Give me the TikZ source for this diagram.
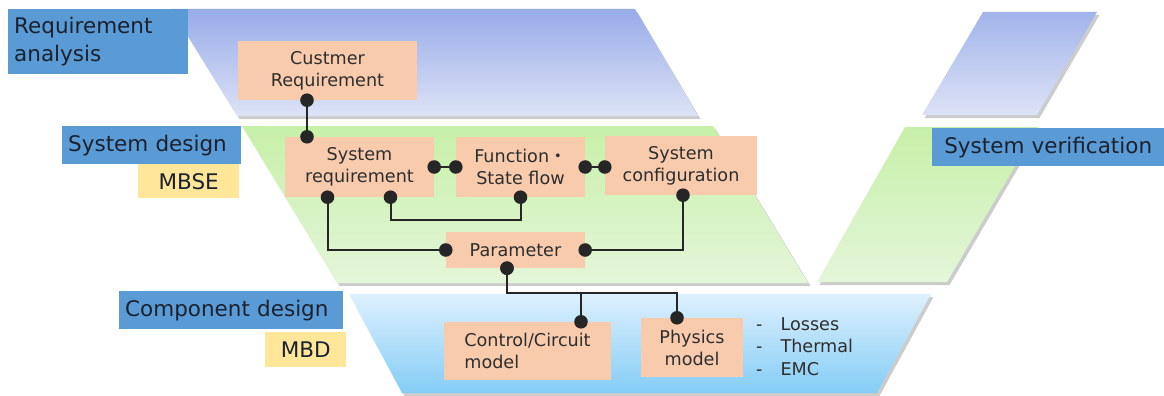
\documentclass[tikz,border=0pt]{standalone}
\usepackage{fontspec}
\setmainfont{DejaVu Sans}
\newfontfamily\jpfont{Noto Sans CJK JP}
\usepackage{xcolor}
\usepackage{tikz}
\usetikzlibrary{arrows.meta,positioning,shadows}
\definecolor{VPhase}{HTML}{5B9BD5}
\definecolor{VTool}{HTML}{FFE699}
\definecolor{VBox}{HTML}{F8CBAD}
\definecolor{VInk}{HTML}{1A2230}
\definecolor{VText}{HTML}{2E2E2E}
\definecolor{VReqTop}{HTML}{97ABE8}
\definecolor{VReqBot}{HTML}{DDE3F6}
\definecolor{VSysTop}{HTML}{C6F0A8}
\definecolor{VSysBot}{HTML}{E4F6DA}
\definecolor{VCmpTop}{HTML}{DEF0FD}
\definecolor{VCmpBot}{HTML}{84CDF6}
\tikzset{
  band/.style={drop shadow={shadow xshift=2.5pt,shadow yshift=-3pt,opacity=0.4}},
  phase/.style={fill=VPhase,text=VInk,anchor=north west,inner xsep=6pt,inner ysep=0pt,font=\fontsize{21.5}{28}\selectfont,align=left},
  tool/.style={fill=VTool,text=VInk,anchor=north west,inner sep=0pt,font=\fontsize{21.5}{28}\selectfont},
  block/.style={fill=VBox,text=VText,inner sep=0pt,font=\fontsize{17.6}{22}\selectfont,align=center},
  link/.style={draw=black!85,line width=2pt,{Circle[length=13.5pt,width=13.5pt]}-{Circle[length=13.5pt,width=13.5pt]},shorten <=-6.75pt,shorten >=-6.75pt},
}

\begin{document}
\begin{tikzpicture}[x=1pt,y=-1pt]
\useasboundingbox (0,0) rectangle (1164,396);
% V bands
\path[band,top color=VReqTop,bottom color=VReqBot] (171,9) -- (635,9) -- (698,116) -- (237,116) -- cycle;
\path[band,top color=VSysTop,bottom color=VSysBot] (242,126) -- (713,126) -- (808,283) -- (337,283) -- cycle;
\path[band,top color=VCmpTop,bottom color=VCmpBot] (349,294) -- (931,294) -- (877,393) -- (402,393) -- cycle;
\path[band,top color=VSysTop,bottom color=VSysBot] (905,127) -- (1038,127) -- (947,282) -- (817,282) -- cycle;
\path[band,top color=VReqTop!90,bottom color=VReqBot] (983,12) -- (1097,12) -- (1037,115) -- (922,115) -- cycle;
% phase labels
\node[phase,text width=168pt,minimum height=65pt] (reqlabel) at (8,9) {Requirement\\analysis};
\node[phase,text width=167pt,minimum height=38pt] (syslabel) at (62,126) {System design};
\node[tool,minimum width=101pt,minimum height=34pt] (mbse) at (138,164) {MBSE};
\node[phase,text width=212pt,minimum height=38pt] (cmplabel) at (119,291) {Component design};
\node[tool,minimum width=81pt,minimum height=35pt] (mbd) at (265,332) {MBD};
\node[phase,text width=220pt,minimum height=38pt,align=center] (verlabel) at (932,128) {System verification};
% blocks
\node[block,minimum width=179pt,minimum height=59pt] (custreq) at (327.5,70.5) {Custmer\\Requirement};
\node[block,minimum width=149pt,minimum height=60pt] (sysreq) at (359.5,167) {System\\requirement};
\node[block,minimum width=129pt,minimum height=60pt] (funcflow) at (520.5,167) {Function{\jpfont ・}\\State flow};
\node[block,minimum width=152pt,minimum height=59pt] (syscfg) at (681,165.5) {System\\configuration};
\node[block,minimum width=139pt,minimum height=36pt] (param) at (515.5,250) {Parameter};
\node[block,minimum width=167pt,minimum height=58pt,align=left] (ctrlmodel) at (527.5,351) {Control/Circuit\\model};
\node[block,minimum width=102pt,minimum height=59pt] (physmodel) at (692,347.5) {Physics\\model};
\node[text=VText,font=\fontsize{17.6}{22.5}\selectfont,anchor=west,inner sep=0pt] (effects) at (756,348) {\begin{tabular}{@{}l@{\hspace{18pt}}l@{}}- & Losses\\- & Thermal\\- & EMC\end{tabular}};
% links
\coordinate (custreq-out) at ([xshift=-20.5pt]custreq.south);
\draw[link] (custreq-out) -- (custreq-out |- sysreq.north);
\draw[link] (sysreq.east) -- (funcflow.west);
\draw[link] (funcflow.east) -- (funcflow.east -| syscfg.west);
\coordinate (sysreq-a) at ([xshift=-32pt]sysreq.south);
\coordinate (sysreq-b) at ([xshift=31pt]sysreq.south);
\draw[link] (sysreq-a) |- (param.west);
\draw[link] (sysreq-b) -- ++(0,23) -| (funcflow.south);
\coordinate (syscfg-out) at ([xshift=2pt]syscfg.south);
\draw[link] (syscfg-out) |- (param.east);
\coordinate (param-out) at ([xshift=-8.5pt]param.south);
\coordinate (ctrl-in) at ([xshift=53.5pt]ctrlmodel.north);
\coordinate (phys-in) at ([xshift=-15pt]physmodel.north);
\draw[link] (param-out) -- ++(0,25) -| (ctrl-in);
\draw[link] (param-out) -- ++(0,25) -| (phys-in);
\end{tikzpicture}
\end{document}
